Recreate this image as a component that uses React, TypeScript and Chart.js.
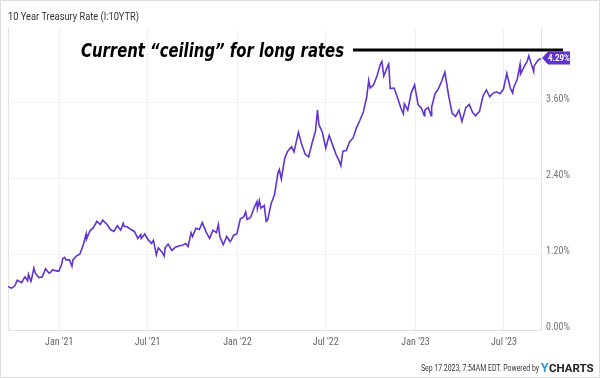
import React, { useEffect, useRef } from 'react';
import { Chart, registerables } from 'chart.js';

Chart.register(...registerables);

// ---- Data (10 Year Treasury Rate, %) ----
const dates: string[] = [
  '2020-09-18','2020-09-23','2020-09-25','2020-10-02','2020-10-07','2020-10-09','2020-10-16','2020-10-21','2020-10-23','2020-10-28','2020-10-30',
  '2020-11-04','2020-11-06','2020-11-10','2020-11-13','2020-11-20','2020-11-27','2020-12-04','2020-12-11','2020-12-15','2020-12-18','2020-12-24','2020-12-31',
  '2021-01-06','2021-01-08','2021-01-12','2021-01-15','2021-01-22','2021-01-27','2021-01-29','2021-02-05','2021-02-12','2021-02-19','2021-02-25','2021-02-26',
  '2021-03-05','2021-03-12','2021-03-19','2021-03-26','2021-03-31','2021-04-09','2021-04-16','2021-04-23','2021-04-30','2021-05-07','2021-05-12','2021-05-14',
  '2021-05-21','2021-05-28','2021-06-04','2021-06-11','2021-06-17','2021-06-18','2021-06-25','2021-07-02','2021-07-09','2021-07-13','2021-07-19','2021-07-23',
  '2021-07-30','2021-08-04','2021-08-06','2021-08-12','2021-08-20','2021-08-27','2021-09-03','2021-09-10','2021-09-17','2021-09-22','2021-09-28','2021-10-01',
  '2021-10-08','2021-10-15','2021-10-21','2021-10-29','2021-11-05','2021-11-12','2021-11-19','2021-11-23','2021-11-26','2021-12-03','2021-12-10','2021-12-17',
  '2021-12-20','2021-12-24','2021-12-31',
  '2022-01-07','2022-01-14','2022-01-18','2022-01-21','2022-01-28','2022-02-04','2022-02-10','2022-02-11','2022-02-15','2022-02-18','2022-02-25','2022-03-01',
  '2022-03-04','2022-03-11','2022-03-18','2022-03-25','2022-03-28','2022-04-01','2022-04-08','2022-04-14','2022-04-22','2022-04-27','2022-04-29','2022-05-06',
  '2022-05-13','2022-05-20','2022-05-27','2022-06-03','2022-06-10','2022-06-14','2022-06-17','2022-06-24','2022-07-01','2022-07-08','2022-07-15','2022-07-22',
  '2022-07-29','2022-08-01','2022-08-05','2022-08-12','2022-08-19','2022-08-26','2022-09-02','2022-09-09','2022-09-16','2022-09-23','2022-09-27','2022-09-30',
  '2022-10-07','2022-10-14','2022-10-21','2022-10-24','2022-10-28','2022-11-04','2022-11-07','2022-11-10','2022-11-18','2022-11-25','2022-12-02','2022-12-07',
  '2022-12-09','2022-12-16','2022-12-23','2022-12-30',
  '2023-01-06','2023-01-13','2023-01-19','2023-01-20','2023-01-27','2023-02-02','2023-02-03','2023-02-10','2023-02-17','2023-02-24','2023-03-02','2023-03-10',
  '2023-03-17','2023-03-24','2023-03-31','2023-04-06','2023-04-14','2023-04-21','2023-04-28','2023-05-04','2023-05-12','2023-05-19','2023-05-26','2023-06-02',
  '2023-06-09','2023-06-16','2023-06-23','2023-06-30','2023-07-07','2023-07-14','2023-07-19','2023-07-21','2023-07-28','2023-08-03','2023-08-04','2023-08-11',
  '2023-08-18','2023-08-21','2023-08-25','2023-08-31','2023-09-01','2023-09-08','2023-09-12','2023-09-15',
];

const rates: number[] = [
  0.69,0.67,0.66,0.70,0.79,0.78,0.75,0.82,0.84,0.78,0.88,
  0.77,0.83,0.98,0.90,0.83,0.84,0.97,0.90,0.92,0.95,0.94,0.93,
  1.04,1.13,1.15,1.11,1.11,1.01,1.11,1.17,1.20,1.34,1.52,1.44,
  1.57,1.62,1.72,1.67,1.74,1.67,1.59,1.56,1.65,1.58,1.69,1.64,
  1.63,1.59,1.56,1.45,1.51,1.45,1.52,1.43,1.37,1.42,1.19,1.30,
  1.24,1.17,1.30,1.36,1.26,1.31,1.33,1.34,1.37,1.32,1.54,1.48,
  1.61,1.59,1.70,1.55,1.45,1.58,1.54,1.67,1.48,1.35,1.48,1.40,
  1.43,1.50,1.52,
  1.76,1.79,1.87,1.75,1.78,1.93,2.03,1.92,2.05,1.93,1.97,1.72,
  1.74,2.00,2.14,2.48,2.54,2.39,2.72,2.83,2.90,2.82,2.89,3.13,
  2.93,2.78,2.74,2.96,3.15,3.48,3.25,3.13,2.88,3.08,2.93,2.78,
  2.67,2.60,2.83,2.84,2.98,3.04,3.20,3.32,3.45,3.69,3.95,3.83,
  3.88,4.02,4.21,4.25,4.02,4.16,4.21,3.82,3.83,3.68,3.51,3.42,
  3.58,3.48,3.75,3.88,
  3.57,3.51,3.39,3.48,3.52,3.39,3.53,3.74,3.82,3.95,4.08,3.70,
  3.43,3.38,3.48,3.30,3.52,3.57,3.44,3.39,3.46,3.70,3.80,3.69,
  3.75,3.77,3.74,3.81,4.06,3.83,3.75,3.84,3.96,4.20,4.05,4.16,
  4.26,4.34,4.24,4.09,4.18,4.26,4.29,4.29,
];

const startDate = '2020-09-18';
const endDate = '2023-09-15';
const xTickDates: string[] = ['2021-01-01', '2021-07-01', '2022-01-01', '2022-07-01', '2023-01-01', '2023-07-01'];
const xTickLabels: string[] = ["Jan '21", "Jul '21", "Jan '22", "Jul '22", "Jan '23", "Jul '23"];
const yTicks: number[] = [0, 1.2, 2.4, 3.6];
const yMax = 4.78;

const titleText = '10 Year Treasury Rate (I:10YTR)';
const annotationText = 'Current \u201Cceiling\u201D for long rates';
const footerText = 'Sep 17 2023, 7:54AM EDT. Powered by';

const LINE_COLOR = '#6134d0';

const dayOf = (s: string) => (Date.parse(s + 'T00:00:00Z') - Date.parse(startDate + 'T00:00:00Z')) / 86400000;
const xTickDays = xTickDates.map(dayOf);

const overlay = {
  id: 'overlay',
  beforeDraw(chart: any) {
    const { ctx } = chart;
    ctx.save();
    ctx.fillStyle = '#ffffff';
    ctx.fillRect(0, 0, chart.width, chart.height);
    ctx.restore();
  },
  beforeDatasetsDraw(chart: any) {
    const { ctx, chartArea: a } = chart;
    ctx.save();
    ctx.strokeStyle = '#e2e2e2';
    ctx.lineWidth = 1;
    ctx.beginPath();
    ctx.moveTo(a.left + 0.5, a.top);
    ctx.lineTo(a.left + 0.5, a.bottom + 0.5);
    ctx.lineTo(a.right + 0.5, a.bottom + 0.5);
    ctx.lineTo(a.right + 0.5, a.top);
    ctx.stroke();
    ctx.restore();
  },
  afterDraw(chart: any) {
    const { ctx, chartArea: a } = chart;
    ctx.save();
    // outer frame
    ctx.strokeStyle = '#dcdcdc';
    ctx.lineWidth = 1;
    ctx.strokeRect(0.5, 0.5, chart.width - 1, chart.height - 1);

    // title
    ctx.fillStyle = '#333333';
    ctx.font = '11px Roboto';
    ctx.textBaseline = 'alphabetic';
    ctx.textAlign = 'left';
    ctx.fillText(titleText, 8, 20, 131);

    // annotation text and ceiling line
    ctx.fillStyle = '#000000';
    ctx.font = 'italic bold 19px "DejaVu Sans"';
    ctx.fillText(annotationText, 81, 57, 263);
    ctx.strokeStyle = '#000000';
    ctx.lineWidth = 3;
    ctx.beginPath();
    ctx.moveTo(353, 50);
    ctx.lineTo(563, 50);
    ctx.stroke();

    // last value label
    const meta = chart.getDatasetMeta(0);
    const last = meta.data[meta.data.length - 1];
    const y = Math.round(last.y) - 1;
    const tip = a.right + 1;
    ctx.fillStyle = LINE_COLOR;
    ctx.beginPath();
    ctx.moveTo(tip, y);
    ctx.lineTo(tip + 6, y - 6.5);
    ctx.lineTo(tip + 28, y - 6.5);
    ctx.lineTo(tip + 28, y + 6.5);
    ctx.lineTo(tip + 6, y + 6.5);
    ctx.closePath();
    ctx.fill();
    ctx.fillStyle = '#ffffff';
    ctx.font = 'bold 9px Roboto';
    ctx.textBaseline = 'middle';
    ctx.textAlign = 'center';
    ctx.fillText(rates[rates.length - 1].toFixed(2) + '%', tip + 17, y + 0.5, 22);

    // footer
    ctx.textBaseline = 'alphabetic';
    ctx.textAlign = 'left';
    ctx.fillStyle = '#333333';
    ctx.font = '9px Roboto';
    ctx.fillText(footerText, 421, 371, 118);
    ctx.fillStyle = '#1e9be9';
    ctx.font = 'bold 12px Roboto';
    ctx.fillText('Y', 541, 372);
    ctx.fillStyle = '#222222';
    ctx.font = 'bold 11.5px Roboto';
    ctx.fillText('CHARTS', 549, 372, 45);
    ctx.restore();
  },
};

export default function App() {
  const canvasRef = useRef<HTMLCanvasElement | null>(null);

  useEffect(() => {
    if (!canvasRef.current) return;
    const points = dates.map((d, i) => ({ x: dayOf(d), y: rates[i] }));
    const chart = new Chart(canvasRef.current, {
      type: 'line',
      data: {
        datasets: [
          {
            data: points,
            borderColor: LINE_COLOR,
            borderWidth: 1.6,
            pointRadius: 0,
            tension: 0,
            fill: false,
          },
        ],
      },
      options: {
        animation: false,
        responsive: false,
        devicePixelRatio: 1,
        layout: { padding: { left: 8, top: 28, right: 0, bottom: 0 } },
        plugins: {
          legend: { display: false },
          tooltip: { enabled: false },
        },
        scales: {
          x: {
            type: 'linear',
            min: 0,
            max: dayOf(endDate),
            afterBuildTicks: (ax: any) => {
              ax.ticks = xTickDays.map((v) => ({ value: v }));
            },
            afterFit: (ax: any) => {
              ax.height = 48;
            },
            grid: { color: '#f0f0f0', drawTicks: false },
            border: { display: false },
            ticks: {
              autoSkip: false,
              maxRotation: 0,
              padding: 6,
              color: '#666666',
              font: { family: "'Roboto Condensed', 'Liberation Sans Narrow', Roboto", size: 10 },
              callback: (v: any) => {
                const i = xTickDays.indexOf(Number(v));
                return i >= 0 ? xTickLabels[i] : '';
              },
            },
          },
          y: {
            position: 'right',
            min: 0,
            max: yMax,
            afterBuildTicks: (ax: any) => {
              ax.ticks = yTicks.map((v) => ({ value: v }));
            },
            afterFit: (ax: any) => {
              ax.width = 59;
            },
            grid: { color: '#f3f3f3', drawTicks: false },
            border: { display: false },
            ticks: {
              padding: 5,
              labelOffset: -3,
              color: '#777777',
              font: { family: "'Roboto Condensed', 'Liberation Sans Narrow', Roboto", size: 10 },
              callback: (v: any) => Number(v).toFixed(2) + '%',
            },
          },
        },
      },
      plugins: [overlay],
    });
    return () => chart.destroy();
  }, []);

  return (
    <div style={{ position: 'absolute', left: 0, top: 0, width: 600, height: 378 }}>
      <canvas ref={canvasRef} width={600} height={378} style={{ display: 'block' }} />
    </div>
  );
}
